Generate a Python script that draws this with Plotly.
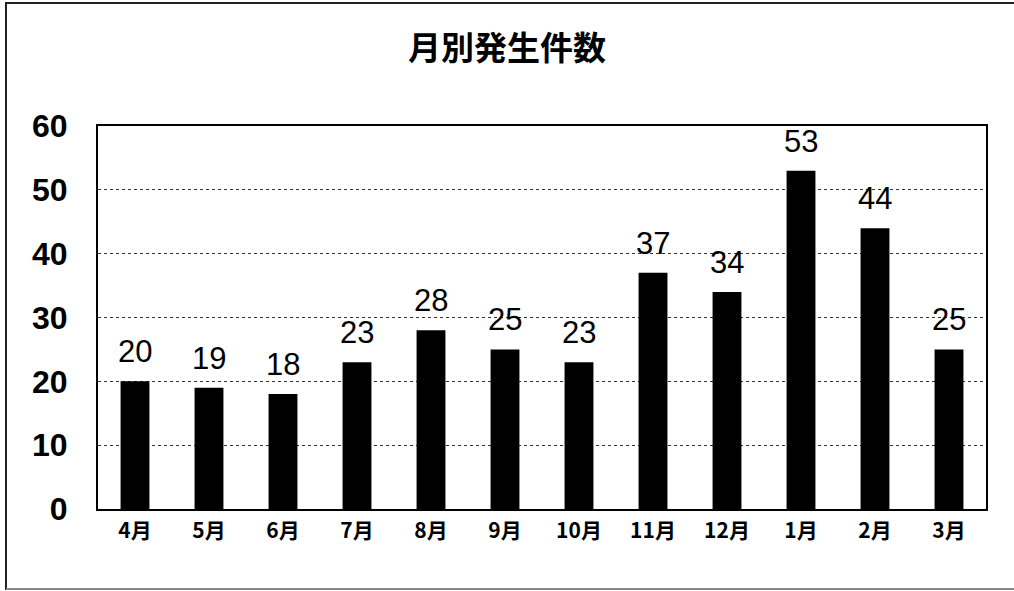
import plotly.graph_objects as go

months = ["4月", "5月", "6月", "7月", "8月", "9月", "10月", "11月", "12月", "1月", "2月", "3月"]
counts = [20, 19, 18, 23, 28, 25, 23, 37, 34, 53, 44, 25]
title_text = "月別発生件数"
y_ticks = [0, 10, 20, 30, 40, 50, 60]

fig = go.Figure()
fig.add_trace(go.Bar(
    x=months, y=counts,
    marker=dict(color="#000000", line=dict(width=0)),
    hoverinfo="skip",
))

for m, v in zip(months, counts):
    fig.add_annotation(
        x=m, y=v, text=str(v), showarrow=False,
        yanchor="bottom", yshift=10,
        font=dict(family="Liberation Sans, Arial, sans-serif", size=31, color="#000000"),
    )

fig.update_layout(
    width=1014, height=591,
    margin=dict(l=98, r=28, t=126, b=82),
    paper_bgcolor="white", plot_bgcolor="white",
    bargap=0.61,
    showlegend=False,
    title=dict(text=title_text, x=0.5, xanchor="center", y=0.918, yanchor="middle",
               font=dict(family="Noto Sans CJK JP", size=33, color="#000000", weight="bold")),
    xaxis=dict(
        showline=True, linecolor="#000000", linewidth=2, mirror=True,
        ticks="", showgrid=False,
        tickfont=dict(family="Noto Sans CJK JP", size=21, color="#000000", weight="bold"),
        ticklabelstandoff=2,
    ),
    yaxis=dict(
        range=[0, 60], tickvals=y_ticks,
        showline=True, linecolor="#000000", linewidth=2, mirror=True,
        ticks="", showgrid=True, gridcolor="#333333", gridwidth=1, griddash="dot",
        zeroline=False,
        tickfont=dict(family="Liberation Sans, Arial, sans-serif", size=32, color="#000000", weight="bold"),
        ticklabelstandoff=22,
    ),
    shapes=[
        dict(type="line", xref="paper", yref="paper",
             x0=(6 - 98) / 888, x1=(6 - 98) / 888, y0=(509 - 2) / 383, y1=(509 - 590) / 383,
             line=dict(color="#222222", width=2)),
        dict(type="line", xref="paper", yref="paper",
             x0=(6 - 98) / 888, x1=(1014 - 98) / 888, y0=(509 - 3) / 383, y1=(509 - 3) / 383,
             line=dict(color="#222222", width=2)),
        dict(type="line", xref="paper", yref="paper",
             x0=(6 - 98) / 888, x1=(1014 - 98) / 888, y0=(509 - 589) / 383, y1=(509 - 589) / 383,
             line=dict(color="#888888", width=2)),
    ],
)

fig.write_html("out.html", config={"displayModeBar": False})

with open("out.html", "r", encoding="utf-8") as f:
    html = f.read()
html = html.replace("<head>", "<head><style>html,body{margin:0;padding:0;overflow:hidden;}</style>", 1)
with open("out.html", "w", encoding="utf-8") as f:
    f.write(html)
